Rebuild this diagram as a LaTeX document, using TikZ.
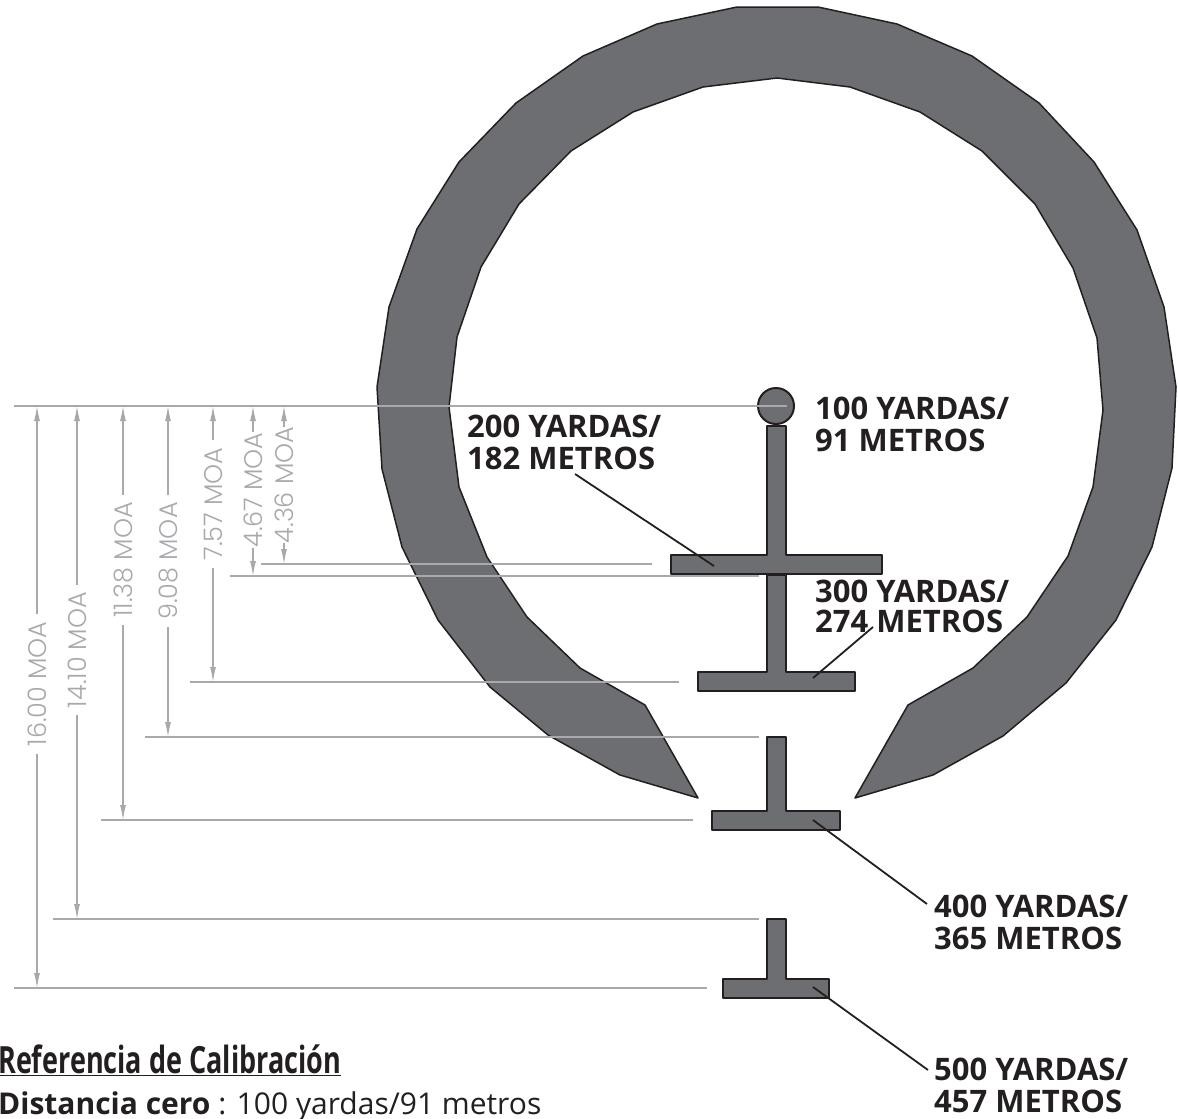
\documentclass[tikz,border=0pt]{standalone}
\usepackage{fontspec}
\usepackage{tikz}
\usetikzlibrary{arrows.meta, positioning}
\setmainfont{Open Sans}
\newfontfamily\moafont{Poppins Light}
\newfontfamily\titlefont[FakeStretch=0.72]{Open Sans}
\definecolor{sightfill}{HTML}{6D6E71}
\definecolor{sightline}{HTML}{231F20}
\definecolor{dimgray}{HTML}{A7A9AC}
\tikzset{
  sight/.style={draw=sightline, fill=sightfill, line width=1.5pt, line join=round},
  post/.style={sight, line width=2pt},
  extline/.style={draw=dimgray, line width=1.1pt},
  dimline/.style={draw=dimgray, line width=1.1pt, -{Latex[length=15pt,width=6pt]}},
  moalabel/.style={rotate=90, text=dimgray, inner sep=7pt, font=\moafont\fontsize{25.5}{25.5}\selectfont},
  rangelabel/.style={anchor=base west, align=left, inner sep=0pt, text=sightline, text depth=0pt,
    font=\fontsize{31}{32}\selectfont\bfseries},
  leader/.style={draw=sightline, line width=1.8pt}
}
\begin{document}
\begin{tikzpicture}[x=1pt, y=-1pt]
        \useasboundingbox (0,0) rectangle (1178,1119);
        % ring
        \draw[sight] (698,798) -- (620,775) -- (548,735) -- (490,687) -- (438,620) -- (402,547) -- (382,469) -- (377,387)
            -- (389,307) -- (417,229) -- (459,162) -- (516,103) -- (583,56) -- (657,24) -- (737,7) -- (818,7)
            -- (897,24) -- (972,56) -- (1039,103) -- (1094,162) -- (1137,230) -- (1164,307) -- (1176,387) -- (1172,468)
            -- (1152,547) -- (1116,620) -- (1066,683) -- (1003,736) -- (933,775) -- (855,798) -- (908,705) -- (973,668)
            -- (1027,617) -- (1068,556) -- (1093,487) -- (1103,410) -- (1097,338) -- (1073,268) -- (1035,204) -- (982,151)
            -- (920,112) -- (850,87) -- (777,78) -- (703,87) -- (633,112) -- (571,151) -- (519,204) -- (481,267)
            -- (457,337) -- (449,407) -- (459,487) -- (487,557) -- (527,617) -- (580,668) -- (645,705) -- cycle;
        % aiming points
        \node[post, circle, minimum size=36pt, inner sep=0pt] (ball) at (776,406) {};
        \draw[post] (767,426) -- (786,426) -- (786,555) -- (882,555) -- (882,574) -- (671,574) -- (671,555) -- (767,555) -- cycle;
        \draw[post] (767,575) -- (786,575) -- (786,672) -- (855,672) -- (855,691) -- (698,691) -- (698,672) -- (767,672) -- cycle;
        \draw[post] (767,737) -- (786,737) -- (786,811) -- (840,811) -- (840,830) -- (712,830) -- (712,811) -- (767,811) -- cycle;
        \draw[post] (767,919) -- (786,919) -- (786,979) -- (829,979) -- (829,998) -- (723,998) -- (723,979) -- (767,979) -- cycle;
        % extension lines
        \coordinate (zeroA) at (14,406);     \coordinate (zeroB) at (787,406);
        \coordinate (ext436A) at (261,564);  \coordinate (ext436B) at (652,564);
        \coordinate (ext467A) at (230,576);  \coordinate (ext467B) at (759,576);
        \coordinate (ext757A) at (190,682);  \coordinate (ext757B) at (679,682);
        \coordinate (ext908A) at (145,737);  \coordinate (ext908B) at (759,737);
        \coordinate (ext1138A) at (101,820); \coordinate (ext1138B) at (693,820);
        \coordinate (ext1410A) at (53,919);  \coordinate (ext1410B) at (759,919);
        \coordinate (ext1600A) at (14,988);  \coordinate (ext1600B) at (707,988);
        \draw[extline] (zeroA) -- (zeroB);
        \draw[extline] (ext436A) -- (ext436B);
        \draw[extline] (ext467A) -- (ext467B);
        \draw[extline] (ext757A) -- (ext757B);
        \draw[extline] (ext908A) -- (ext908B);
        \draw[extline] (ext1138A) -- (ext1138B);
        \draw[extline] (ext1410A) -- (ext1410B);
        \draw[extline] (ext1600A) -- (ext1600B);
        % dimensions
        \node[moalabel] (moa1600) at (37,684) {16.00 MOA};
        \node[moalabel] (moa1410) at (77,650) {14.10 MOA};
        \node[moalabel] (moa1138) at (123,560) {11.38 MOA};
        \node[moalabel] (moa908) at (168,561) {9.08 MOA};
        \node[moalabel] (moa757) at (213,504) {7.57 MOA};
        \node[moalabel, inner sep=0pt] (moa467) at (253,490) {4.67 MOA};
        \node[moalabel, inner sep=0pt] (moa436) at (284,485) {4.36 MOA};
        \draw[dimline] (moa1600) -- (37,406);  \draw[dimline] (moa1600) -- (37,988);
        \draw[dimline] (moa1410) -- (77,406);  \draw[dimline] (moa1410) -- (77,919);
        \draw[dimline] (moa1138) -- (123,406); \draw[dimline] (moa1138) -- (123,820);
        \draw[dimline] (moa908) -- (168,406);  \draw[dimline] (moa908) -- (168,737);
        \draw[dimline] (moa757) -- (213,406);  \draw[dimline] (moa757) -- (213,682);
        \draw[dimline] (moa467) -- (253,406);  \draw[dimline] (moa467) -- (253,576);
        \draw[dimline] (moa436) -- (284,406);  \draw[dimline] (moa436) -- (284,564);
        % range labels
        \node[rangelabel] (range100) at (815,451) {100 YARDAS/\\91 METROS};
        \node[rangelabel] (range200) at (467,469) {200 YARDAS/\\182 METROS};
        \node[rangelabel] (range300) at (815,632) {300 YARDAS/\\[-2pt]274 METROS};
        \node[rangelabel] (range400) at (934,949) {400 YARDAS/\\365 METROS};
        \node[rangelabel] (range500) at (934,1112) {500 YARDAS/\\457 METROS};
        \coordinate (lead200A) at (575,474); \coordinate (lead200B) at (714,566);
        \coordinate (lead300A) at (873,627); \coordinate (lead300B) at (813,678);
        \coordinate (lead400A) at (927,904); \coordinate (lead400B) at (813,820);
        \coordinate (lead500A) at (928,1070); \coordinate (lead500B) at (813,987);
        \draw[leader] (lead200A) -- (lead200B);
        \draw[leader] (lead300A) -- (lead300B);
        \draw[leader] (lead400A) -- (lead400B);
        \draw[leader] (lead500A) -- (lead500B);
        % calibration note
        \node[anchor=base west, inner sep=0pt, text=sightline, font=\titlefont\fontsize{37.5}{37.5}\selectfont\bfseries] (caltitle) at (-2,1073) {\underline{Referencia de Calibración}};
        \node[anchor=base west, inner sep=0pt, text=sightline, font=\fontsize{30}{30}\selectfont] (calzero) at (-2,1114) {\textbf{Distancia cero} : 100 yardas/91 metros};
    \end{tikzpicture}
\end{document}
